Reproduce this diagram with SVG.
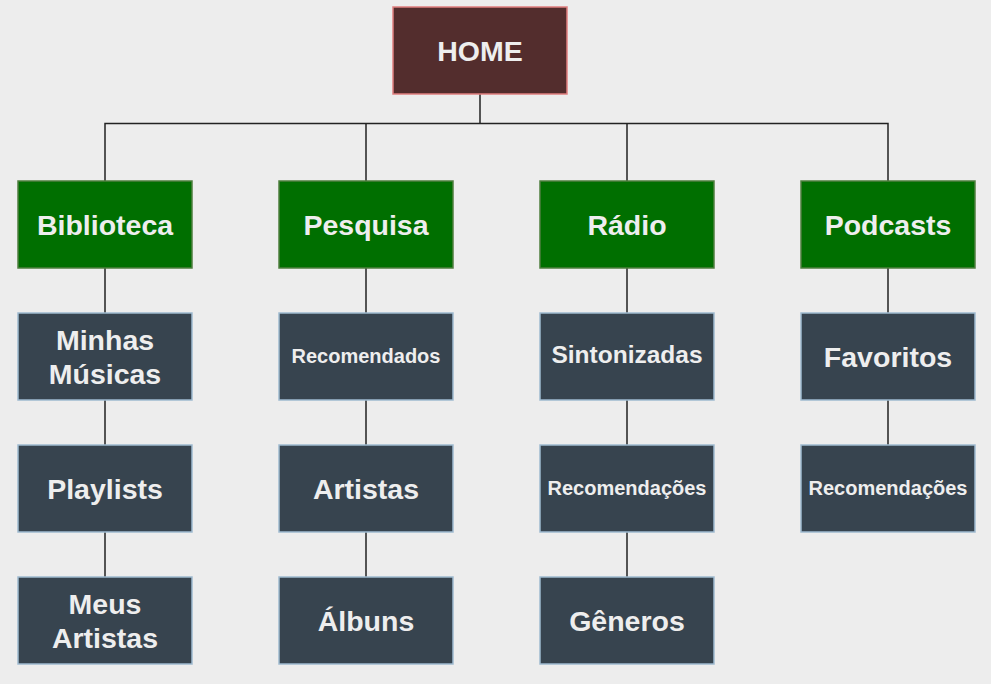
<svg xmlns="http://www.w3.org/2000/svg" width="991" height="684" viewBox="0 0 991 684">
<style>
.bg{fill:#ededed}
.home{fill:#532d2d;stroke:#e07f7f;stroke-width:1.5}
.cat{fill:#006f00;stroke:#4f7f3f;stroke-width:1.5}
.leaf{fill:#37444f;stroke:#9fbad0;stroke-width:1.5}
text{font-family:"Liberation Sans",Arial,sans-serif;font-weight:bold;fill:#eeeeee;text-anchor:middle;dominant-baseline:central}
.l{font-size:28.5px}
.m{font-size:24.5px}
.s{font-size:20px}
.conn path{fill:none;stroke:#222;stroke-width:1.5}
</style>
<rect class="bg" width="991" height="684"/>
<g class="conn">
<path d="M480 94V123.5M105 181V123.5H888V181M366 123.5V181M627 123.5V181"/>
<path d="M105 268V313M105 400V445M105 532V577"/>
<path d="M366 268V313M366 400V445M366 532V577"/>
<path d="M627 268V313M627 400V445M627 532V577"/>
<path d="M888 268V313M888 400V445"/>
</g>
<g id="home"><rect class="home" x="393" y="7" width="174" height="87"/><text class="l" x="480" y="51">HOME</text></g>
<g id="biblioteca"><rect class="cat" x="18" y="181" width="174" height="87"/><text class="l" x="105" y="225">Biblioteca</text></g>
<g id="pesquisa"><rect class="cat" x="279" y="181" width="174" height="87"/><text class="l" x="366" y="225">Pesquisa</text></g>
<g id="radio"><rect class="cat" x="540" y="181" width="174" height="87"/><text class="l" x="627" y="225">Rádio</text></g>
<g id="podcasts"><rect class="cat" x="801" y="181" width="174" height="87"/><text class="l" x="888" y="225">Podcasts</text></g>
<g id="minhas-musicas"><rect class="leaf" x="18" y="313" width="174" height="87"/><text class="l" x="105" y="340">Minhas</text><text class="l" x="105" y="374">Músicas</text></g>
<g id="playlists"><rect class="leaf" x="18" y="445" width="174" height="87"/><text class="l" x="105" y="489">Playlists</text></g>
<g id="meus-artistas"><rect class="leaf" x="18" y="577" width="174" height="87"/><text class="l" x="105" y="604">Meus</text><text class="l" x="105" y="638">Artistas</text></g>
<g id="recomendados"><rect class="leaf" x="279" y="313" width="174" height="87"/><text class="s" x="366" y="356">Recomendados</text></g>
<g id="artistas"><rect class="leaf" x="279" y="445" width="174" height="87"/><text class="l" x="366" y="489">Artistas</text></g>
<g id="albuns"><rect class="leaf" x="279" y="577" width="174" height="87"/><text class="l" x="366" y="621">Álbuns</text></g>
<g id="sintonizadas"><rect class="leaf" x="540" y="313" width="174" height="87"/><text class="m" x="627" y="354">Sintonizadas</text></g>
<g id="recomendacoes-radio"><rect class="leaf" x="540" y="445" width="174" height="87"/><text class="s" x="627" y="488">Recomendações</text></g>
<g id="generos"><rect class="leaf" x="540" y="577" width="174" height="87"/><text class="l" x="627" y="621">Gêneros</text></g>
<g id="favoritos"><rect class="leaf" x="801" y="313" width="174" height="87"/><text class="l" x="888" y="357">Favoritos</text></g>
<g id="recomendacoes-podcasts"><rect class="leaf" x="801" y="445" width="174" height="87"/><text class="s" x="888" y="488">Recomendações</text></g>
</svg>
